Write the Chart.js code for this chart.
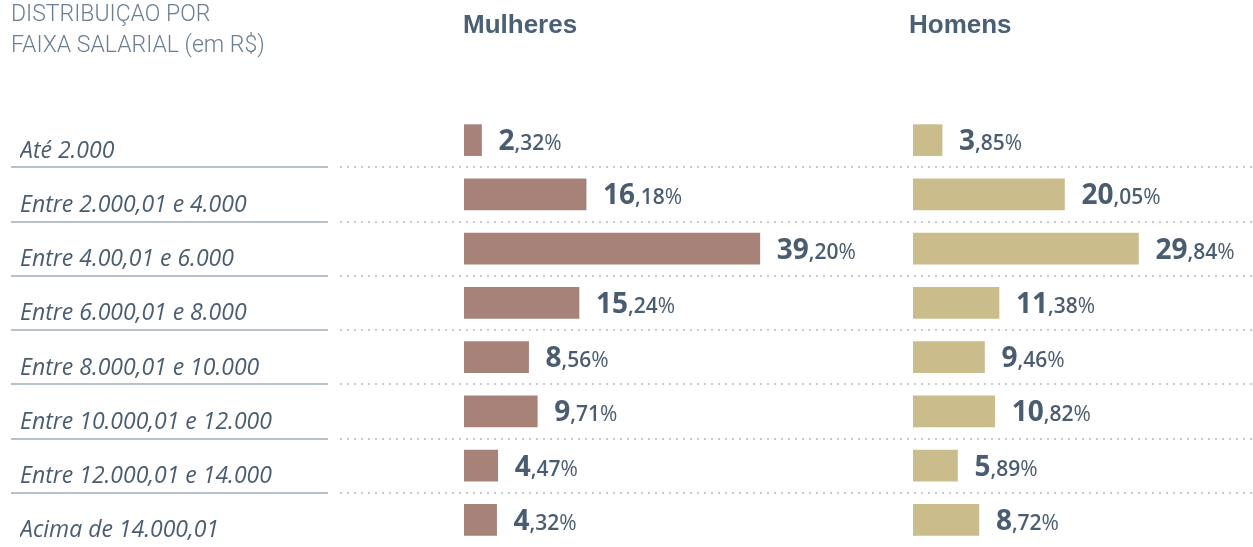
<!DOCTYPE html>
<html lang="pt-BR">
<head>
<meta charset="utf-8">
<title>Distribuição por faixa salarial</title>
<script src="https://cdn.jsdelivr.net/npm/chart.js@4.4.1/dist/chart.umd.min.js"></script>
<style>
  html, body { margin: 0; padding: 0; background: #fff; }
  #wrap { position: relative; width: 1253px; height: 547px; }
</style>
</head>
<body>
<div id="wrap"><canvas id="faixas"></canvas></div>
<script>
const faixas = [
  'Até 2.000',
  'Entre 2.000,01 e 4.000',
  'Entre 4.00,01 e 6.000',
  'Entre 6.000,01 e 8.000',
  'Entre 8.000,01 e 10.000',
  'Entre 10.000,01 e 12.000',
  'Entre 12.000,01 e 14.000',
  'Acima de 14.000,01'
]
const mulheres = [2.32, 16.18, 39.20, 15.24, 8.56, 9.71, 4.47, 4.32]
const homens = [3.85, 20.05, 29.84, 11.38, 9.46, 10.82, 5.89, 8.72]
const grupos = ['Mulheres', 'Homens']
const titulo = ['DISTRIBUIÇAO POR', 'FAIXA SALARIAL (em R$)']

const corTexto = '#4a5d70'

// separators between rows, panel headers, labels next to each bar
const decoracao = {
  id: 'decoracao',
  beforeDatasetsDraw(chart) {
    const { ctx, scales: { y } } = chart
    ctx.save()
    ctx.lineWidth = 2
    for (let i = 0; i < faixas.length - 1; i++) {
      const py = Math.round((y.getPixelForTick(i) + y.getPixelForTick(i + 1)) / 2)
      ctx.strokeStyle = '#b6c1cb'
      ctx.setLineDash([])
      ctx.beginPath()
      ctx.moveTo(11, py)
      ctx.lineTo(328, py)
      ctx.stroke()
      ctx.strokeStyle = '#c3ccd5'
      ctx.setLineDash([2, 5])
      ctx.beginPath()
      ctx.moveTo(340, py)
      ctx.lineTo(chart.width, py)
      ctx.stroke()
    }
    ctx.restore()
  },
  afterDatasetsDraw(chart) {
    const { ctx } = chart
    ctx.save()
    ctx.fillStyle = corTexto
    ctx.textBaseline = 'alphabetic'
    ctx.textAlign = 'left'
    chart.data.datasets.forEach((ds, di) => {
      chart.getDatasetMeta(di).data.forEach((bar, i) => {
        const [inteiro, dec] = ds.data[i].toFixed(2).split('.')
        let x = bar.x + 17
        const by = bar.y + 10
        ctx.font = '700 28px "Open Sans"'
        ctx.fillText(inteiro, x, by)
        x += ctx.measureText(inteiro).width
        ctx.font = '600 21px "Open Sans"'
        ctx.fillText(',' + dec, x, by)
        x += ctx.measureText(',' + dec).width
        ctx.font = '400 21px "Open Sans"'
        ctx.fillText('%', x, by)
      })
    })
    ctx.restore()
  },
  afterDraw(chart) {
    const { ctx, scales } = chart
    ctx.save()
    ctx.textAlign = 'left'
    ctx.textBaseline = 'alphabetic'
    ctx.fillStyle = '#4b6075'
    ctx.font = 'bold 26px "Liberation Sans"'
    ctx.fillText(grupos[0], scales.xM.left - 1, 33)
    ctx.fillText(grupos[1], scales.xH.left - 4, 33)
    ctx.fillStyle = '#6b7f91'
    ctx.font = '300 23px Roboto'
    ctx.fillText(titulo[0], 11, 21)
    ctx.fillText(titulo[1], 11, 52)
    ctx.restore()
  }
}

new Chart(document.getElementById('faixas'), {
  type: 'bar',
  data: {
    labels: faixas,
    datasets: [
      {
        label: grupos[0],
        data: mulheres,
        xAxisID: 'xM',
        backgroundColor: '#a68279',
        grouped: false,
        barThickness: 31
      },
      {
        label: grupos[1],
        data: homens,
        xAxisID: 'xH',
        backgroundColor: '#cbbc8c',
        grouped: false,
        barThickness: 31
      }
    ]
  },
  options: {
    indexAxis: 'y',
    responsive: true,
    maintainAspectRatio: false,
    animation: false,
    layout: { padding: { top: 113, bottom: 0, left: 20, right: 0 } },
    plugins: { legend: { display: false }, tooltip: { enabled: false } },
    scales: {
      y: {
        grid: { display: false },
        border: { display: false },
        afterFit(scale) {
          scale.width = 444
          // rows run to the bottom edge, no room kept for half a label
          scale.paddingTop = 0
          scale.paddingBottom = 0
        },
        ticks: {
          autoSkip: false,
          crossAlign: 'far',
          labelOffset: 11,
          color: corTexto,
          font: { family: '"Open Sans"', style: 'italic', size: 23 }
        }
      },
      xM: {
        type: 'linear', position: 'bottom', stack: 'painel', stackWeight: 449,
        min: 0, max: 59.5, display: false
      },
      xH: {
        type: 'linear', position: 'bottom', stack: 'painel', stackWeight: 340,
        min: 0, max: 45, display: false
      }
    }
  },
  plugins: [decoracao]
})
</script>
</body>
</html>
